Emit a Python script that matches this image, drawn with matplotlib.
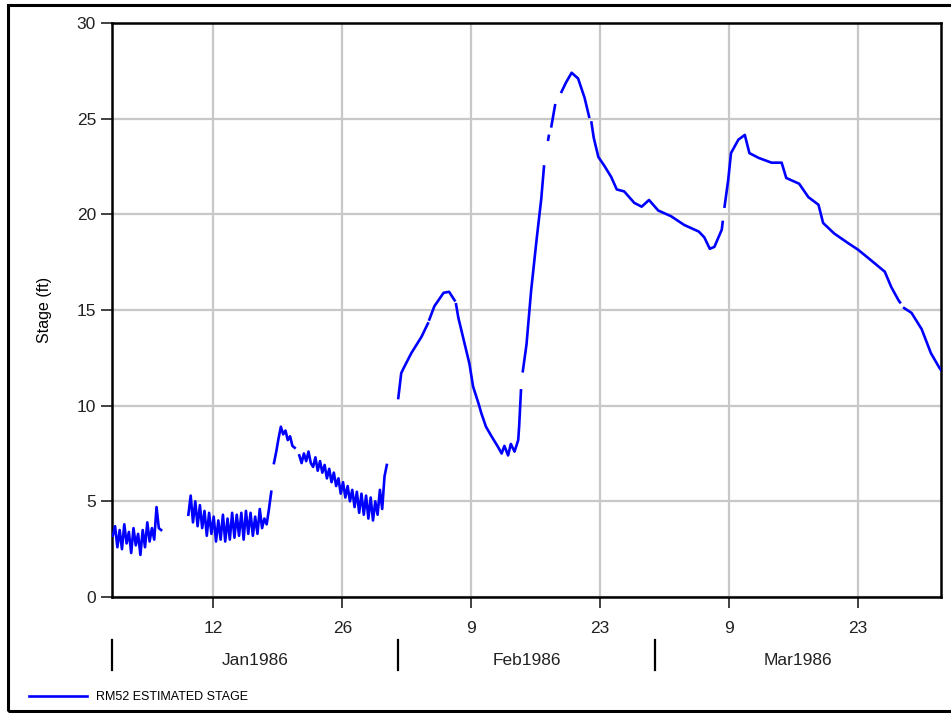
import matplotlib.pyplot as plt
from matplotlib.lines import Line2D
from matplotlib.patches import Rectangle
import numpy as np
import pandas as pd

plt.rcParams['font.family'] = ['Liberation Sans', 'DejaVu Sans']

# --- data (stage in ft) ---
# tidal January pieces, sampled every 6 hours
jan_a_start = '1986-01-01 02:00'
jan_a = [3.2, 3.7, 2.6, 3.5, 2.5, 3.8, 2.8, 3.4, 2.3, 3.6, 2.7, 3.3,
         2.2, 3.5, 2.6, 3.9, 2.9, 3.6, 3.0, 4.7, 3.6, 3.5]

jan_b_start = '1986-01-09 07:00'
jan_b = [4.3, 5.3, 3.9, 5.0, 3.7, 4.8, 3.6, 4.5, 3.2, 4.4, 3.3, 4.2,
         2.9, 4.0, 3.0, 4.3, 2.9, 4.1, 3.0, 4.4, 3.1, 4.3, 3.2, 4.4,
         3.0, 4.5, 3.3, 4.4, 3.2, 4.2, 3.3, 4.6, 3.6, 4.1, 3.8, 4.6, 5.5]

jan_c_start = '1986-01-18 14:00'
jan_c = [7.0, 7.6, 8.3, 8.9, 8.5, 8.7, 8.2, 8.4, 7.9, 7.8, np.nan, 7.4,
         7.0, 7.5, 7.1, 7.6, 7.0, 6.8, 7.3, 6.6, 7.1, 6.5, 6.9, 6.2,
         6.7, 6.0, 6.5, 5.8, 6.2, 5.4, 6.0, 5.2, 5.8, 5.0, 5.6, 4.7,
         5.5, 4.4, 5.4, 4.3, 5.3, 4.1, 5.2, 4.0, 5.0, 4.3, 5.6, 4.6,
         6.3, 6.9]

# Feb-Mar piece, days since 1 Jan 1986 (nan = missing record)
febmar_days = [31.08, 31.4, 31.7, 32.5, 33.6, 34.3, 34.37, 34.45, 35.0, 36.0,
               36.6, 37.2, 37.27, 37.35, 37.6, 38.1, 38.8, 39.2, 39.8, 40.1,
               40.6, 41.2, 41.9, 42.3, 42.6, 43.0, 43.3, 43.7, 44.1, 44.2,
               44.4, 44.5, 44.6, 45.0, 45.5, 46.1, 46.6, 46.9, 47.0, 47.35,
               47.42, 47.5, 47.7, 48.1, 48.3, 48.8, 49.3, 49.9, 50.6, 51.3,
               51.8, 51.95, 52.05, 52.3, 52.8, 53.5, 54.2, 54.8, 55.6, 56.7,
               57.5, 58.3, 59.3, 60.7, 62.1, 63.7, 64.3, 64.9, 65.4, 66.2,
               66.3, 66.4, 66.5, 66.9, 67.2, 68.0, 68.7, 69.2, 70.2, 71.6,
               72.7, 73.2, 74.6, 75.6, 76.7, 77.2, 78.4, 79.9, 81.0, 82.4,
               83.9, 84.6, 85.4, 85.55, 85.7, 86.0, 86.8, 87.9, 88.9, 89.8,
               90.1]
febmar_vals = [10.4, 11.7, 12.0, 12.75, 13.6, 14.3, np.nan, 14.5, 15.2, 15.9,
               15.95, 15.5, np.nan, 15.3, 14.6, 13.6, 12.2, 11.0, 10.1, 9.6,
               8.9, 8.4, 7.85, 7.5, 7.9, 7.4, 8.0, 7.6, 8.2, 8.9,
               10.8, np.nan, 11.8, 13.2, 16.0, 18.7, 20.8, 22.5, np.nan, 23.9,
               24.1, np.nan, 24.6, 25.7, np.nan, 26.4, 26.9, 27.4, 27.1, 26.1,
               25.1, np.nan, 24.8, 24.0, 23.0, 22.5, 21.95, 21.3, 21.2, 20.6,
               20.4, 20.75, 20.2, 19.9, 19.45, 19.1, 18.8, 18.2, 18.3, 19.2,
               19.6, np.nan, 20.4, 21.8, 23.2, 23.9, 24.15, 23.2, 22.95, 22.7,
               22.7, 21.9, 21.6, 20.9, 20.5, 19.55, 19.0, 18.5, 18.15, 17.6,
               17.0, 16.2, 15.5, 15.4, np.nan, 15.1, 14.85, 14.0, 12.75, 12.0,
               11.8]

x_tick_dates = ['1986-01-12', '1986-01-26', '1986-02-09',
                '1986-02-23', '1986-03-09', '1986-03-23']
x_tick_labels = ['12', '26', '9', '23', '9', '23']
month_starts = ['1986-01-01', '1986-02-01', '1986-03-01', '1986-04-01']
month_labels = ['Jan1986', 'Feb1986', 'Mar1986']

# build one series with gaps between the pieces
base = pd.Timestamp('1986-01-01')
pieces = []
for start, vals in [(jan_a_start, jan_a), (jan_b_start, jan_b), (jan_c_start, jan_c)]:
    idx = pd.date_range(start, periods=len(vals), freq='6h')
    pieces.append(pd.Series(vals, index=idx))
    pieces.append(pd.Series([np.nan], index=[idx[-1] + pd.Timedelta(hours=3)]))
fm_idx = base + pd.to_timedelta(febmar_days, unit='D')
pieces.append(pd.Series(febmar_vals, index=fm_idx))
stage = pd.concat(pieces)

fig = plt.figure(figsize=(9.51, 7.13), dpi=100)
ax = fig.add_axes([112 / 951, 1 - 597 / 713, 829 / 951, 574 / 713])

line, = ax.plot(stage.index, stage.values, color='#0000ff', lw=1.9,
                label='RM52 ESTIMATED STAGE', zorder=3)

ax.set_xlim(pd.Timestamp('1986-01-01'), pd.Timestamp('1986-04-01'))
ax.set_ylim(0, 30)
ax.set_yticks(range(0, 31, 5))
ax.set_xticks(pd.to_datetime(x_tick_dates))
ax.set_xticklabels(x_tick_labels)
ax.grid(True, color='#c8c8c8', lw=1.6, zorder=0)
ax.tick_params(axis='both', direction='out', length=8, width=1.3,
               color='#333333', labelsize=12.5, labelcolor='#222222')
ax.tick_params(axis='x', pad=9)
for sp in ax.spines.values():
    sp.set_linewidth(1.8)
    sp.set_color('black')
ax.set_ylabel('Stage (ft)', fontsize=11.5, labelpad=18)

# month separators and labels under the axis
trans = ax.get_xaxis_transform()
ms = pd.to_datetime(month_starts)
for d in ms[:-1]:
    ax.add_line(Line2D([d, d], [-0.075, -0.128], transform=trans,
                       color='black', lw=1.6, clip_on=False))
for i, lab in enumerate(month_labels):
    mid = ms[i] + (ms[i + 1] - ms[i]) / 2
    ax.text(mid, -0.11, lab, transform=trans, ha='center', va='center',
            fontsize=12.5, color='#222222')

fig.legend(handles=[line], loc='center left',
           bbox_to_anchor=(29 / 951, 1 - 697 / 713), frameon=False,
           fontsize=9, handlelength=4.6, handletextpad=0.8,
           borderpad=0, borderaxespad=0)

# outer frame of the picture
fig.patches.append(Rectangle((8 / 951, 2 / 713), 1.2, 1 - 7 / 713,
                             transform=fig.transFigure, fill=False,
                             edgecolor='black', lw=2.2))

fig.savefig('out.png', dpi=100)
